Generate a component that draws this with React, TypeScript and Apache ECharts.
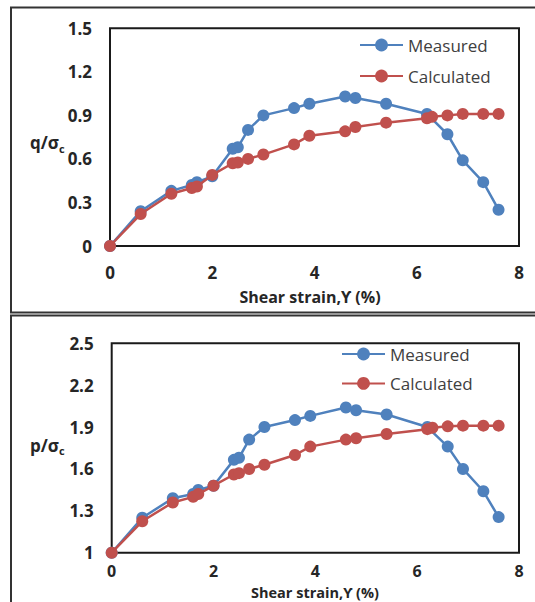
import React, { useEffect, useRef } from "react";
import * as echarts from "echarts";

// ---- Data ----
const strainMeasured = [0, 0.6, 1.2, 1.6, 1.7, 2.0, 2.4, 2.5, 2.7, 3.0, 3.6, 3.9, 4.6, 4.8, 5.4, 6.2, 6.6, 6.9, 7.3, 7.6];
const qMeasured = [0, 0.24, 0.38, 0.42, 0.44, 0.48, 0.67, 0.68, 0.8, 0.9, 0.95, 0.98, 1.03, 1.02, 0.98, 0.91, 0.77, 0.59, 0.44, 0.25];
const strainCalculated = [0, 0.6, 1.2, 1.6, 1.7, 2.0, 2.4, 2.5, 2.7, 3.0, 3.6, 3.9, 4.6, 4.8, 5.4, 6.2, 6.3, 6.6, 6.9, 7.3, 7.6];
const qCalculated = [0, 0.22, 0.36, 0.4, 0.41, 0.49, 0.57, 0.575, 0.6, 0.63, 0.7, 0.76, 0.79, 0.82, 0.85, 0.88, 0.89, 0.9, 0.91, 0.91, 0.91];
const pMeasured = [1, 1.25, 1.39, 1.42, 1.45, 1.48, 1.665, 1.68, 1.81, 1.9, 1.95, 1.98, 2.04, 2.02, 1.99, 1.9, 1.76, 1.6, 1.44, 1.255];
const pCalculated = [1, 1.225, 1.36, 1.4, 1.42, 1.48, 1.56, 1.57, 1.6, 1.63, 1.7, 1.76, 1.81, 1.82, 1.85, 1.885, 1.895, 1.905, 1.91, 1.91, 1.91];

const xTicks = [0, 2, 4, 6, 8];
const qTicks = [0, 0.3, 0.6, 0.9, 1.2, 1.5];
const pTicks = [1, 1.3, 1.6, 1.9, 2.2, 2.5];

const seriesNames = ["Measured", "Calculated"];
const xTitle = "Shear strain,ϒ (%)";

const FONT = "'Open Sans', 'Noto Sans', sans-serif";
const BLUE = "#4F81BD";
const RED = "#C0504D";
const DARK = "#262626";

function zip(xs: number[], ys: number[]) {
  return xs.map((x, i) => [x, ys[i]]);
}

export default function App() {
  const ref = useRef<HTMLDivElement>(null);

  useEffect(() => {
    if (!ref.current) return;
    const chart = echarts.init(ref.current, undefined, { renderer: "svg" });

    const xAxisBase = (gridIndex: number, margin: number, size: number) => ({
      type: "value" as const,
      gridIndex,
      min: 0,
      max: 8,
      interval: 2,
      axisLine: { show: false },
      axisTick: { show: false },
      splitLine: { show: false },
      axisLabel: {
        customValues: xTicks,
        margin,
        fontSize: size,
        lineHeight: 14,
        fontWeight: "bold",
        fontFamily: FONT,
        color: DARK,
      },
    });

    const yAxisBase = (gridIndex: number, min: number, max: number, ticks: number[]) => ({
      type: "value" as const,
      gridIndex,
      min,
      max,
      axisLine: { show: false },
      axisTick: { show: false },
      splitLine: { show: false },
      axisLabel: {
        customValues: ticks,
        margin: 18,
        fontSize: 17,
        fontWeight: "bold",
        fontFamily: FONT,
        color: DARK,
      },
    });

    const lineSeries = (name: string, color: string, idx: number, data: number[][]) => ({
      type: "line" as const,
      name,
      xAxisIndex: idx,
      yAxisIndex: idx,
      data,
      symbol: "circle",
      symbolSize: 12,
      lineStyle: { color, width: 2.5 },
      itemStyle: { color },
      z: name === "Calculated" ? 3 : 2,
    });

    const legendBase = (left: number, top: number, gap: number) => ({
      data: seriesNames,
      orient: "vertical" as const,
      left,
      top,
      itemWidth: 43,
      itemHeight: 16,
      itemGap: gap,
      padding: 0,
      textStyle: {
        fontSize: 17,
        fontFamily: FONT,
        color: "#404040",
        lineHeight: 20,
      },
    });

    const yName = (x: number, y: number, letter: string) => ({
      type: "text" as const,
      x,
      y,
      style: {
        text: `{a|${letter}/σ}{b|c}`,
        verticalAlign: "middle",
        rich: {
          a: { fontSize: 17, fontWeight: "bold", fontFamily: FONT, fill: DARK, lineHeight: 22 },
          b: { fontSize: 11, fontWeight: "bold", fontFamily: FONT, fill: DARK, lineHeight: 10, verticalAlign: "bottom" },
        },
      },
    });

    const xName = (x: number, y: number, size: number) => ({
      type: "text" as const,
      x,
      y,
      style: {
        text: xTitle,
        align: "center",
        verticalAlign: "middle",
        fontSize: size,
        lineHeight: size,
        fontWeight: "bold",
        fontFamily: FONT,
        fill: DARK,
      },
    });

    chart.setOption({
      animation: false,
      backgroundColor: "#fff",
      grid: [
        { left: 110, top: 28.3, width: 409, height: 217.7, show: true, borderColor: "#1a1a1a", borderWidth: 2, backgroundColor: "transparent" },
        { left: 111.7, top: 343.3, width: 407.3, height: 209.4, show: true, borderColor: "#1a1a1a", borderWidth: 2, backgroundColor: "transparent" },
      ],
      xAxis: [xAxisBase(0, 19, 17), xAxisBase(1, 11, 16)],
      yAxis: [yAxisBase(0, 0, 1.5, qTicks), yAxisBase(1, 1, 2.5, pTicks)],
      legend: [legendBase(359, 35, 11), legendBase(341, 344, 9.4)],
      series: [
        lineSeries(seriesNames[0], BLUE, 0, zip(strainMeasured, qMeasured)),
        lineSeries(seriesNames[1], RED, 0, zip(strainCalculated, qCalculated)),
        lineSeries(seriesNames[0], BLUE, 1, zip(strainMeasured, pMeasured)),
        lineSeries(seriesNames[1], RED, 1, zip(strainCalculated, pCalculated)),
      ],
      graphic: [
        { type: "rect", shape: { x: 11, y: 7.5, width: 540, height: 305 }, style: { fill: "none", stroke: "#333", lineWidth: 2 }, silent: true },
        { type: "rect", shape: { x: 11, y: 315.5, width: 540, height: 300 }, style: { fill: "none", stroke: "#333", lineWidth: 2 }, silent: true },
        yName(30, 142.5, "q"),
        yName(30, 445, "p"),
        xName(310, 296.7, 16),
        xName(315, 592.5, 14.5),
      ],
    });

    return () => chart.dispose();
  }, []);

  return (
    <div
      ref={ref}
      style={{ position: "fixed", left: 0, top: 0, width: 535, height: 602, background: "#fff" }}
    />
  );
}
